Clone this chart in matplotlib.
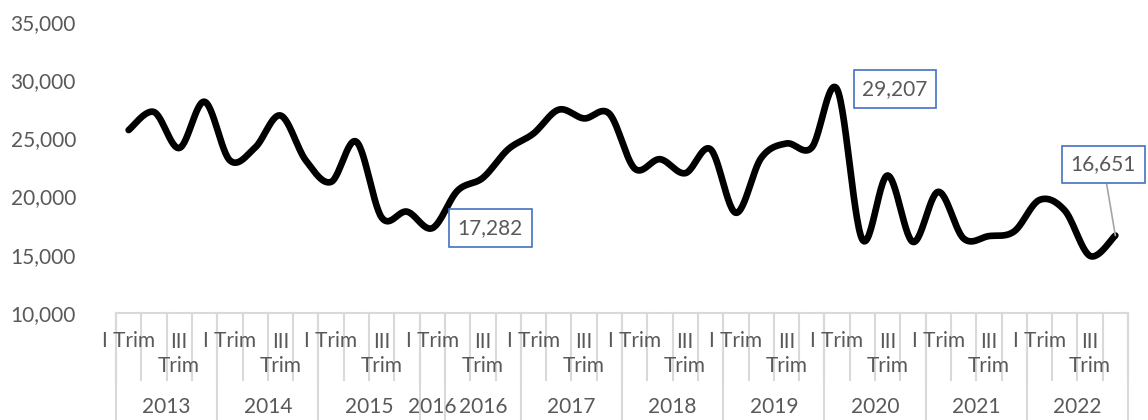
import matplotlib
matplotlib.use("Agg")
import matplotlib.pyplot as plt
import numpy as np

# ---- data ----
years = ["2013", "2014", "2015", "2016", "2016", "2017", "2018", "2019", "2020", "2021", "2022"]
year_counts = [4, 4, 4, 1, 3, 4, 4, 4, 4, 4, 4]
quarter_names = ["I Trim", "II Trim", "III Trim", "IV Trim"]
quarters = (quarter_names * 3 + ["I Trim"] + ["II Trim", "III Trim", "IV Trim"]
            + quarter_names * 6)
values = [25700, 27250, 24160, 28130, 23100, 24200, 26950, 23100,
          21250, 24700, 18200, 18700, 17282, 20500, 21600, 24050,
          25400, 27450, 26700, 27100, 22400, 23200, 22000, 24050,
          18600, 23300, 24550, 24200, 29207, 16300, 21800, 16100,
          20400, 16400, 16600, 17000, 19700, 18800, 14900, 16651]
labeled_idx = [12, 28, 39]

GRAY_TXT = "#595959"
GRID = "#D9D9D9"
FONT = ["Lato", "DejaVu Sans"]
FS = 15

plt.rcParams["font.family"] = FONT

fig = plt.figure(figsize=(11.48, 4.20), dpi=100)
ax = fig.add_axes([116 / 1148, (420 - 313) / 420, 1012 / 1148, 291.3 / 420])

n = len(values)
x = np.arange(n, dtype=float)
y = np.array(values, dtype=float)

# Smoothed line (Catmull-Rom / Bezier like Excel)
xs, ys = [], []
t = np.linspace(0, 1, 30)
for i in range(n - 1):
    p0 = np.array([x[max(i - 1, 0)], y[max(i - 1, 0)]])
    p1 = np.array([x[i], y[i]])
    p2 = np.array([x[i + 1], y[i + 1]])
    p3 = np.array([x[min(i + 2, n - 1)], y[min(i + 2, n - 1)]])
    c1 = p1 + (p2 - p0) / 6.0
    c2 = p2 - (p3 - p1) / 6.0
    b = ((1 - t)[:, None] ** 3 * p1 + 3 * ((1 - t) ** 2 * t)[:, None] * c1
         + 3 * ((1 - t) * t ** 2)[:, None] * c2 + (t ** 3)[:, None] * p2)
    xs.extend(b[:, 0])
    ys.extend(b[:, 1])
ax.plot(xs, ys, color="black", lw=4.8, solid_capstyle="round", solid_joinstyle="round", zorder=3)

ax.set_xlim(-0.5, n - 0.5)
ax.set_ylim(10000, 35000)
ax.set_yticks(np.arange(10000, 35001, 5000))
ax.set_yticklabels([f"{v:,}" for v in range(10000, 35001, 5000)])
ax.tick_params(axis="y", length=0, pad=40 * 0.72, labelsize=FS, labelcolor=GRAY_TXT)
ax.set_xticks([])
for s in ["left", "right", "top"]:
    ax.spines[s].set_visible(False)
ax.spines["bottom"].set_color(GRID)
ax.spines["bottom"].set_linewidth(1.5)

# Category axis (two levels)
tr = ax.get_xaxis_transform()
ah = 291.3
def ay(px):
    return -(px - 313) / ah

# quarter separators
for k in range(n + 1):
    ax.plot([k - 0.5, k - 0.5], [0, ay(380)], color=GRID, lw=1.5, transform=tr, clip_on=False)
# year separators and labels
pos = 0
for yr, c in zip(years, year_counts):
    ax.plot([pos - 0.5, pos - 0.5], [0, ay(420)], color=GRID, lw=1.5, transform=tr, clip_on=False)
    ax.text(pos + (c - 1) / 2.0, ay(407), yr, transform=tr, ha="center", va="center",
            fontsize=FS, color=GRAY_TXT, clip_on=False)
    pos += c
ax.plot([pos - 0.5, pos - 0.5], [0, ay(420)], color=GRID, lw=1.5, transform=tr, clip_on=False)

# quarter labels (every other one shown)
for k in range(0, n, 2):
    lab = quarters[k]
    if len(lab) > 6:
        lab = lab.replace(" ", "\n")
        ax.text(k, ay(353.7), lab, transform=tr, ha="center", va="center", fontsize=FS,
                color=GRAY_TXT, linespacing=1.25, clip_on=False)
    else:
        ax.text(k, ay(340.7), lab, transform=tr, ha="center", va="center", fontsize=FS,
                color=GRAY_TXT, clip_on=False)

# data labels
offsets = {12: (58, 0), 28: (58, 0), 39: (-12, 71)}
for i in labeled_idx:
    dx, dy = offsets[i]
    ax.annotate(f"{values[i]:,}", xy=(x[i], y[i]), xytext=(dx * 0.72, dy * 0.72),
                textcoords="offset points", ha="center", va="center", fontsize=FS,
                color=GRAY_TXT, zorder=5,
                bbox=dict(boxstyle="square,pad=0.42", fc="white", ec="#4472C4", lw=1.2),
                arrowprops=dict(arrowstyle="-", color="#A6A6A6", lw=1.2, shrinkA=0, shrinkB=0)
                if i == 39 else None)

fig.savefig("out.png", dpi=100)
